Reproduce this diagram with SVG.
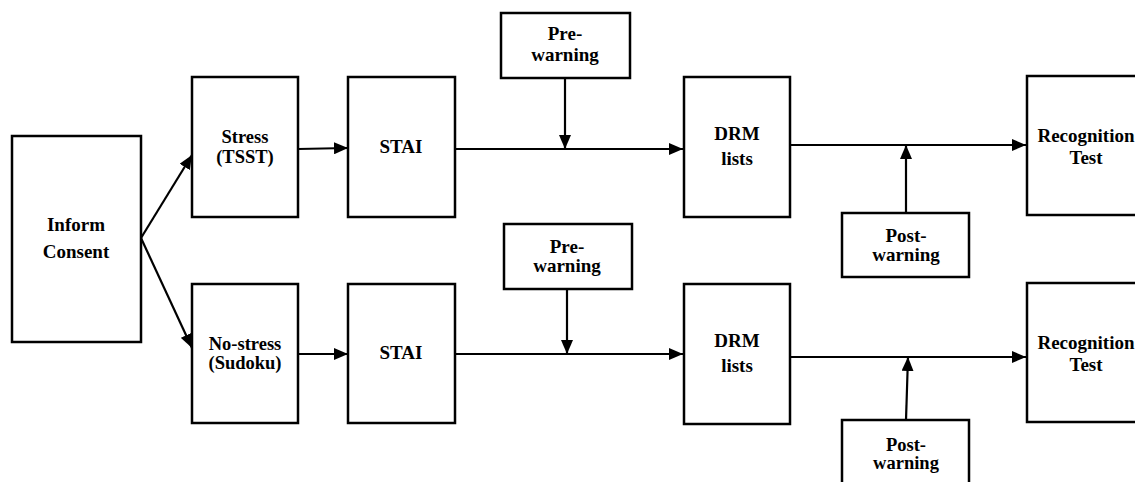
<svg xmlns="http://www.w3.org/2000/svg" width="1135" height="482" viewBox="0 0 1135 482">
<defs>
<marker id="ah" markerWidth="14" markerHeight="12" refX="14" refY="6" orient="auto" markerUnits="userSpaceOnUse">
<path d="M0,0 L14,6 L0,12 Z" fill="#000"/>
</marker>
</defs>
<style>
.box{fill:#fff;stroke:#000;stroke-width:2.5}
.lbl{font-family:"Liberation Serif","Times New Roman",serif;font-weight:bold;font-size:19px;text-anchor:middle;fill:#000}
.tight{font-size:18.5px}
.con{stroke:#000;stroke-width:2.2;fill:none;marker-end:url(#ah)}
</style>
<rect width="1135" height="482" fill="#fff"/>
<g id="inform">
<rect class="box" x="12" y="136" width="129" height="206"/>
<text class="lbl" x="76" y="231">Inform</text>
<text class="lbl" x="76" y="258">Consent</text>
</g>
<g id="stress">
<rect class="box" x="192" y="77" width="106" height="140"/>
<text class="lbl tight" x="245" y="143">Stress</text>
<text class="lbl tight" x="245" y="163">(TSST)</text>
</g>
<g id="stai1">
<rect class="box" x="348" y="77" width="107" height="140"/>
<text class="lbl" x="401" y="153">STAI</text>
</g>
<g id="prewarning1">
<rect class="box" x="501" y="13" width="129" height="65"/>
<text class="lbl" x="565" y="40">Pre-</text>
<text class="lbl" x="565" y="61">warning</text>
</g>
<g id="drm1">
<rect class="box" x="684" y="77" width="106" height="140"/>
<text class="lbl" x="737" y="140">DRM</text>
<text class="lbl" x="737" y="165">lists</text>
</g>
<g id="postwarning1">
<rect class="box" x="842" y="213" width="127" height="64"/>
<text class="lbl" x="906" y="242">Post-</text>
<text class="lbl" x="906" y="261">warning</text>
</g>
<g id="recognition1">
<rect class="box" x="1027" y="76" width="125" height="139"/>
<text class="lbl" x="1086" y="142">Recognition</text>
<text class="lbl" x="1086" y="164">Test</text>
</g>
<g id="nostress">
<rect class="box" x="192" y="284" width="106" height="139"/>
<text class="lbl tight" x="245" y="350">No-stress</text>
<text class="lbl tight" x="245" y="369">(Sudoku)</text>
</g>
<g id="stai2">
<rect class="box" x="348" y="284" width="107" height="139"/>
<text class="lbl" x="401" y="359">STAI</text>
</g>
<g id="prewarning2">
<rect class="box" x="504" y="224" width="128" height="65"/>
<text class="lbl" x="567" y="253">Pre-</text>
<text class="lbl" x="567" y="272">warning</text>
</g>
<g id="drm2">
<rect class="box" x="684" y="284" width="106" height="140"/>
<text class="lbl" x="737" y="347">DRM</text>
<text class="lbl" x="737" y="372">lists</text>
</g>
<g id="postwarning2">
<rect class="box" x="842" y="420" width="127" height="70"/>
<text class="lbl tight" x="906" y="451">Post-</text>
<text class="lbl tight" x="906" y="469">warning</text>
</g>
<g id="recognition2">
<rect class="box" x="1027" y="283" width="125" height="139"/>
<text class="lbl" x="1086" y="349">Recognition</text>
<text class="lbl" x="1086" y="371">Test</text>
</g>
<g id="connectors">
<line class="con" x1="141" y1="238" x2="192" y2="155"/>
<line class="con" x1="141" y1="238" x2="192" y2="348"/>
<line class="con" x1="298" y1="149" x2="348" y2="148"/>
<line class="con" x1="455" y1="149" x2="683" y2="149"/>
<line class="con" x1="565" y1="78" x2="565" y2="149"/>
<line class="con" x1="790" y1="145" x2="1026" y2="145"/>
<line class="con" x1="906" y1="213" x2="906" y2="145"/>
<line class="con" x1="298" y1="354" x2="348" y2="354"/>
<line class="con" x1="455" y1="354" x2="683" y2="354"/>
<line class="con" x1="567" y1="289" x2="567" y2="354"/>
<line class="con" x1="790" y1="357" x2="1026" y2="357"/>
<line class="con" x1="906" y1="420" x2="908" y2="357"/>
</g>
</svg>
